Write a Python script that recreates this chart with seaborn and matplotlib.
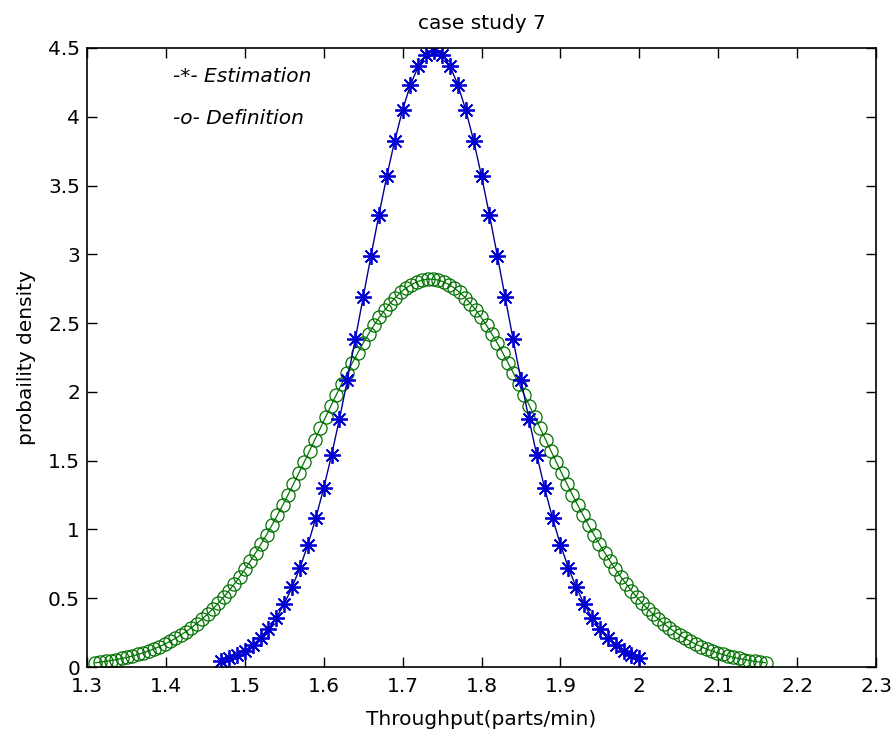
import matplotlib
matplotlib.use("Agg")
import matplotlib.pyplot as plt
import seaborn as sns
import pandas as pd

# Estimation curve (blue, -*-)
est_x = [1.47, 1.48, 1.49, 1.50, 1.51, 1.52, 1.53, 1.54, 1.55, 1.56,
         1.57, 1.58, 1.59, 1.60, 1.61, 1.62, 1.63, 1.64, 1.65, 1.66,
         1.67, 1.68, 1.69, 1.70, 1.71, 1.72, 1.73, 1.74, 1.75, 1.76,
         1.77, 1.78, 1.79, 1.80, 1.81, 1.82, 1.83, 1.84, 1.85, 1.86,
         1.87, 1.88, 1.89, 1.90, 1.91, 1.92, 1.93, 1.94, 1.95, 1.96,
         1.97, 1.98, 1.99, 2.00]
est_y = [0.045, 0.063, 0.087, 0.118, 0.159, 0.211, 0.277, 0.359, 0.459, 0.580,
         0.723, 0.890, 1.083, 1.300, 1.542, 1.805, 2.087, 2.383, 2.687, 2.991,
         3.288, 3.569, 3.826, 4.050, 4.233, 4.368, 4.452, 4.480, 4.452, 4.368,
         4.233, 4.050, 3.826, 3.569, 3.288, 2.991, 2.687, 2.383, 2.087, 1.805,
         1.542, 1.300, 1.083, 0.890, 0.723, 0.580, 0.459, 0.359, 0.277, 0.211,
         0.159, 0.118, 0.087, 0.063]

# Definition curve (green, -o-)
def_x = [1.3100, 1.3168, 1.3236, 1.3304, 1.3372, 1.3440, 1.3508, 1.3576, 1.3644, 1.3712,
         1.3780, 1.3848, 1.3916, 1.3984, 1.4052, 1.4120, 1.4188, 1.4256, 1.4324, 1.4392,
         1.4460, 1.4528, 1.4596, 1.4664, 1.4732, 1.4800, 1.4868, 1.4936, 1.5004, 1.5072,
         1.5140, 1.5208, 1.5276, 1.5344, 1.5412, 1.5480, 1.5548, 1.5616, 1.5684, 1.5752,
         1.5820, 1.5888, 1.5956, 1.6024, 1.6092, 1.6160, 1.6228, 1.6296, 1.6364, 1.6432,
         1.6500, 1.6568, 1.6636, 1.6704, 1.6772, 1.6840, 1.6908, 1.6976, 1.7044, 1.7112,
         1.7180, 1.7248, 1.7316, 1.7384, 1.7452, 1.7520, 1.7588, 1.7656, 1.7724, 1.7792,
         1.7860, 1.7928, 1.7996, 1.8064, 1.8132, 1.8200, 1.8268, 1.8336, 1.8404, 1.8472,
         1.8540, 1.8608, 1.8676, 1.8744, 1.8812, 1.8880, 1.8948, 1.9016, 1.9084, 1.9152,
         1.9220, 1.9288, 1.9356, 1.9424, 1.9492, 1.9560, 1.9628, 1.9696, 1.9764, 1.9832,
         1.9900, 1.9968, 2.0036, 2.0104, 2.0172, 2.0240, 2.0308, 2.0376, 2.0444, 2.0512,
         2.0580, 2.0648, 2.0716, 2.0784, 2.0852, 2.0920, 2.0988, 2.1056, 2.1124, 2.1192,
         2.1260, 2.1328, 2.1396, 2.1464, 2.1532, 2.1600]
def_y = [0.031, 0.036, 0.041, 0.047, 0.054, 0.062, 0.070, 0.080, 0.091, 0.103,
         0.117, 0.131, 0.148, 0.166, 0.186, 0.208, 0.232, 0.258, 0.286, 0.316,
         0.349, 0.385, 0.423, 0.464, 0.508, 0.555, 0.605, 0.657, 0.712, 0.771,
         0.832, 0.896, 0.962, 1.031, 1.103, 1.176, 1.252, 1.330, 1.409, 1.489,
         1.571, 1.653, 1.735, 1.817, 1.899, 1.979, 2.059, 2.136, 2.212, 2.284,
         2.354, 2.420, 2.483, 2.541, 2.594, 2.642, 2.686, 2.723, 2.755, 2.780,
         2.800, 2.813, 2.819,
         2.819, 2.813, 2.800,
         2.780, 2.755, 2.723, 2.686, 2.642, 2.594, 2.541, 2.483, 2.420, 2.354,
         2.284, 2.212, 2.136, 2.059, 1.979, 1.899, 1.817, 1.735, 1.653, 1.571,
         1.489, 1.409, 1.330, 1.252, 1.176, 1.103, 1.031, 0.962, 0.896, 0.832,
         0.771, 0.712, 0.657, 0.605, 0.555, 0.508, 0.464, 0.423, 0.385, 0.349,
         0.316, 0.286, 0.258, 0.232, 0.208, 0.186, 0.166, 0.148, 0.131, 0.117,
         0.103, 0.091, 0.080, 0.070, 0.062, 0.054, 0.047, 0.041, 0.036, 0.031]

x_ticks = [1.3, 1.4, 1.5, 1.6, 1.7, 1.8, 1.9, 2.0, 2.1, 2.2, 2.3]
x_tick_labels = ["1.3", "1.4", "1.5", "1.6", "1.7", "1.8", "1.9", "2", "2.1", "2.2", "2.3"]
y_ticks = [0, 0.5, 1, 1.5, 2, 2.5, 3, 3.5, 4, 4.5]
y_tick_labels = ["0", "0.5", "1", "1.5", "2", "2.5", "3", "3.5", "4", "4.5"]

title = "case study 7"
x_label = "Throughput(parts/min)"
y_label = "probaility density"
legend_texts = ["-*- Estimation", "-o- Definition"]

sns.set_theme(style="ticks")
plt.rcParams["font.family"] = ["DejaVu Sans"]
plt.rcParams["text.color"] = "black"
plt.rcParams["axes.labelcolor"] = "black"

FS = 14.5

fig = plt.figure(figsize=(8.95, 7.38), dpi=100)
ax = fig.add_axes([0.0972, 0.0962, 0.8816, 0.8388])

df_def = pd.DataFrame({"x": def_x, "y": def_y})
df_est = pd.DataFrame({"x": est_x, "y": est_y})

sns.lineplot(data=df_def, x="x", y="y", ax=ax, estimator=None, sort=False,
             color="#007a00", linewidth=0.9, marker="o", markersize=9.5,
             markerfacecolor="none", markeredgecolor="#007000", markeredgewidth=0.9)
sns.lineplot(data=df_est, x="x", y="y", ax=ax, estimator=None, sort=False,
             color="#000090", linewidth=1.0, marker=(8, 2, 0), markersize=12,
             markeredgecolor="#0000d0", markeredgewidth=1.3)

ax.set_xlim(1.3, 2.3)
ax.set_ylim(0, 4.5)
ax.set_xticks(x_ticks)
ax.set_xticklabels(x_tick_labels)
ax.set_yticks(y_ticks)
ax.set_yticklabels(y_tick_labels)
ax.tick_params(direction="in", length=7, width=1, top=True, right=True,
               labelsize=FS, colors="black", labelcolor="black")
ax.tick_params(axis="y", pad=5)
ax.tick_params(axis="x", pad=7)
for s in ax.spines.values():
    s.set_visible(True)
    s.set_color("black")
    s.set_linewidth(1.2)

ax.set_title(title, fontsize=FS, pad=14, color="black")
ax.set_xlabel(x_label, fontsize=FS, labelpad=10, color="black")
ax.set_ylabel(y_label, fontsize=FS, labelpad=9, color="black")

ax.text(1.409, 4.29, legend_texts[0], fontsize=FS, style="italic", va="center", ha="left", color="black")
ax.text(1.409, 3.99, legend_texts[1], fontsize=FS, style="italic", va="center", ha="left", color="black")

fig.savefig("out.png", dpi=100, facecolor="white")
